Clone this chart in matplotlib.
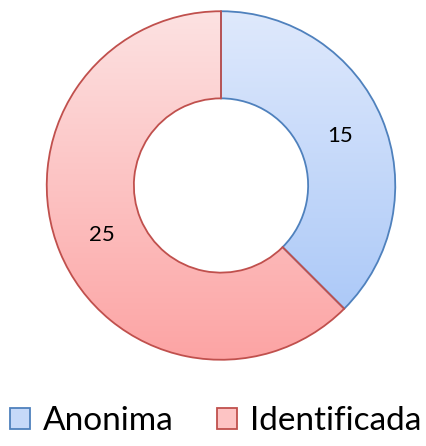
import numpy as np
import matplotlib.pyplot as plt
from matplotlib.colors import LinearSegmentedColormap
from matplotlib.patches import Patch

labels = ['Anonima', 'Identificada']
values = [15, 25]
edge_colors = ['#4f81bd', '#c0504d']
top_colors = ['#dfe9fc', '#fde2e2']
bottom_colors = ['#a4c4f7', '#fca4a4']
legend_colors = ['#c6d9f9', '#fdc4c4']

plt.rcParams['font.family'] = ['Lato', 'DejaVu Sans']

fig = plt.figure(figsize=(4.27, 4.46), dpi=100)
ax = fig.add_axes([45 / 427, (446 - 362) / 446, 352 / 427, 353 / 446])

wedges, texts = ax.pie(values, startangle=90, counterclock=False, radius=1,
                       labels=[str(v) for v in values], labeldistance=0.74,
                       wedgeprops=dict(width=0.5, linewidth=1.3),
                       textprops=dict(fontsize=16, ha='center', va='center'))

grad = np.linspace(0, 1, 256).reshape(-1, 1)
for w, ec, top, bot in zip(wedges, edge_colors, top_colors, bottom_colors):
    w.set_edgecolor(ec)
    w.set_facecolor('none')
    cmap = LinearSegmentedColormap.from_list('g', [top, bot])
    im = ax.imshow(grad, cmap=cmap, extent=[-1, 1, -1, 1], aspect='auto', zorder=0)
    im.set_clip_path(w)
    w.set_zorder(1)

for t in texts:
    t.set_zorder(3)

ax.set_xlim(-1.01, 1.01)
ax.set_ylim(-1.01, 1.01)
ax.set_aspect('equal')
ax.axis('off')

handles = [Patch(facecolor=c, edgecolor=ec, linewidth=1.3)
           for c, ec in zip(legend_colors, edge_colors)]
fig.legend(handles, labels, loc='center', bbox_to_anchor=(0.505, 1 - 421 / 446),
           ncol=2, frameon=False, fontsize=24, handlelength=0.6, handleheight=0.6,
           handletextpad=0.4, columnspacing=1.3)

fig.savefig('out.png', dpi=100)
